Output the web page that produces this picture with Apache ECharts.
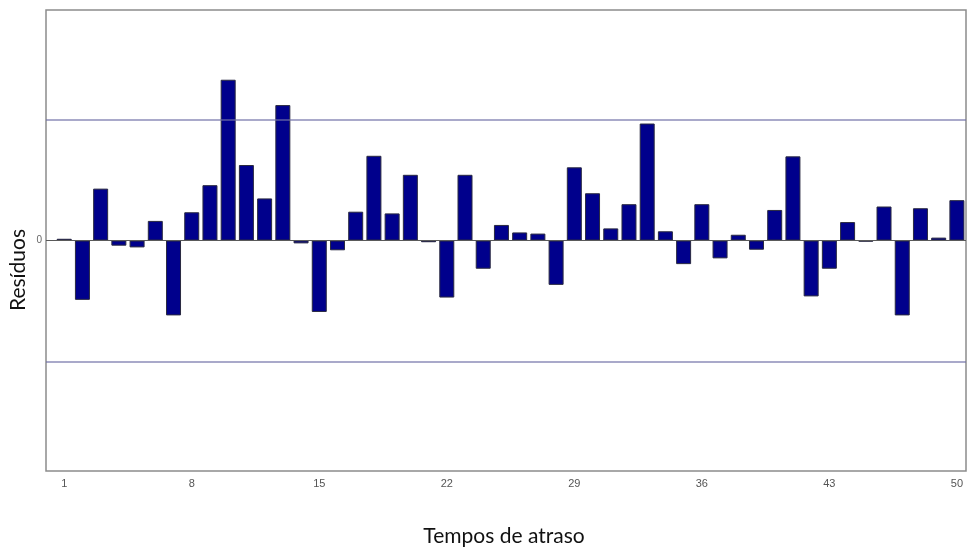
<!DOCTYPE html>
<html>
<head>
<meta charset="utf-8">
<script src="https://cdn.jsdelivr.net/npm/echarts@6/dist/echarts.min.js"></script>
<style>
  html, body { margin: 0; padding: 0; background: #ffffff; }
  #chart { width: 969px; height: 549px; }
</style>
</head>
<body>
<div id="chart"></div>
<script>
// Lags 1..50 and the residual autocorrelation at each lag
const lags = Array.from({ length: 50 }, (_, i) => i + 1);
const residuals = [
  0.003, -0.103, 0.090, -0.009, -0.012, 0.034, -0.130, 0.049, 0.096, 0.279,
  0.131, 0.073, 0.235, -0.005, -0.124, -0.017, 0.050, 0.147, 0.047, 0.114,
  -0.003, -0.099, 0.114, -0.049, 0.027, 0.014, 0.012, -0.077, 0.127, 0.082,
  0.021, 0.063, 0.203, 0.016, -0.041, 0.063, -0.031, 0.010, -0.016, 0.053,
  0.146, -0.097, -0.049, 0.032, -0.002, 0.059, -0.130, 0.056, 0.005, 0.070
];
// Tick labels shown on the lag axis
const lagTicks = [1, 8, 15, 22, 29, 36, 43, 50];
// Confidence band limits
const upperLimit = 0.215;
const lowerLimit = -0.215;

const titleFont = 'Lato, "Open Sans", sans-serif';
const tickFont = '"Liberation Sans Narrow", "Liberation Sans", sans-serif';

const chart = echarts.init(document.getElementById('chart'), null, { renderer: 'canvas' });

chart.setOption({
  animation: false,
  backgroundColor: '#ffffff',
  grid: {
    left: 46, right: 3, top: 10, bottom: 78,
    outerBoundsMode: 'none',
    containLabel: false,
    show: true, borderColor: '#8c8c8c', borderWidth: 1.5, backgroundColor: '#ffffff'
  },
  xAxis: {
    type: 'value',
    min: 0,
    max: 50.5,
    axisLine: { show: false },
    axisTick: { show: false },
    splitLine: { show: false },
    axisLabel: {
      customValues: lagTicks,
      margin: 7,
      fontFamily: tickFont,
      fontSize: 11,
      color: '#555'
    }
  },
  yAxis: {
    type: 'value',
    min: -0.4,
    max: 0.4,
    axisLine: { show: false },
    axisTick: { show: false },
    splitLine: { show: false },
    axisLabel: {
      customValues: [0],
      margin: 4,
      fontFamily: tickFont,
      fontSize: 10,
      color: '#666'
    }
  },
  graphic: [
    {
      type: 'text',
      x: 504, y: 536,
      style: {
        text: 'Tempos de atraso',
        font: '21px ' + titleFont,
        fill: '#111',
        align: 'center',
        verticalAlign: 'middle'
      }
    },
    {
      type: 'text',
      x: 18, y: 270,
      rotation: Math.PI / 2,
      style: {
        text: 'Resíduos',
        font: '21px ' + titleFont,
        fill: '#111',
        align: 'center',
        verticalAlign: 'middle'
      }
    }
  ],
  series: [{
    type: 'bar',
    data: lags.map((lag, i) => [lag, residuals[i]]),
    barWidth: 15,
    itemStyle: { color: '#00008c', borderColor: '#2a2a40', borderWidth: 1 },
    markLine: {
      silent: true,
      symbol: 'none',
      label: { show: false },
      data: [
        { yAxis: upperLimit, lineStyle: { color: 'rgba(112,112,168,0.8)', width: 1.5, type: 'solid' } },
        { yAxis: lowerLimit, lineStyle: { color: 'rgba(112,112,168,0.8)', width: 1.5, type: 'solid' } },
        { yAxis: 0, lineStyle: { color: '#5a5a5a', width: 1, type: 'solid' } }
      ]
    }
  }]
});
</script>
</body>
</html>
